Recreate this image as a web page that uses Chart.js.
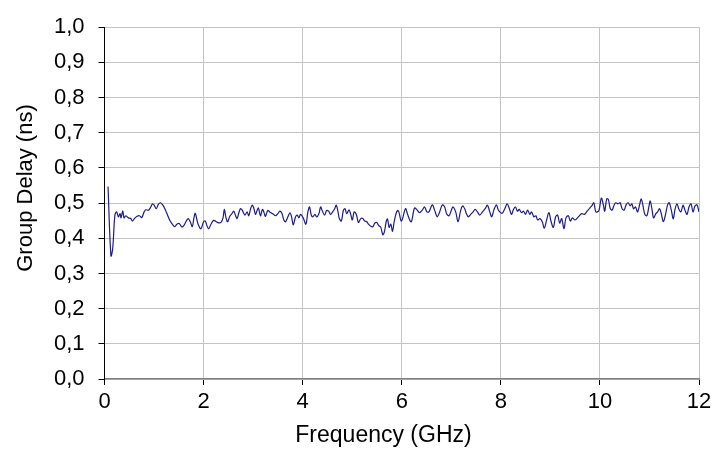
<!DOCTYPE html>
<html>
<head>
<meta charset="utf-8">
<script src="https://cdn.jsdelivr.net/npm/chart.js@4.4.0/dist/chart.umd.min.js"></script>
<style>
html,body{margin:0;padding:0;background:#fff;}
#wrap{width:726px;height:450px;position:relative;}
</style>
</head>
<body>
<div id="wrap"><canvas id="c" width="726" height="450"></canvas></div>
<script>
const freqGHz = [
0.071,0.13,0.165,0.21,0.246,0.28,0.314,0.334,0.368,0.395,0.43,0.483,0.53,0.563,0.604,0.651,0.705,0.752,0.8,0.833,0.887,0.935,0.968,1.002,1.043,1.09,1.13,1.178,1.225,1.272,1.326,1.38,1.42,1.46,1.508,1.562,1.61,1.65,1.69,1.731,1.772,1.805,1.832,1.866,1.9,1.947,
2.0,2.034,2.068,2.102,2.149,2.203,2.257,2.304,2.351,2.392,2.419,2.453,2.486,2.527,2.567,2.608,2.642,2.676,2.709,2.743,2.777,2.81,2.837,2.878,2.912,2.946,2.979,3.013,3.047,3.08,3.107,3.148,3.188,3.216,3.249,3.296,3.35,3.404,3.452,3.499,3.54,3.58,3.62,3.654,3.702,3.742,3.776,3.81,3.857,3.891,3.924,
3.957,4.011,4.065,4.105,4.139,4.173,4.207,4.247,4.281,4.328,4.362,4.396,4.443,4.483,4.524,4.564,4.605,4.646,4.679,4.713,4.74,4.781,4.821,4.855,4.889,4.936,4.97,5.003,5.037,5.064,5.091,5.125,5.172,5.213,5.253,5.294,5.327,5.375,5.415,5.456,5.496,5.537,5.577,5.618,5.651,5.685,5.712,5.746,5.78,5.813,5.847,5.881,5.915,
5.941,5.995,6.076,6.123,6.191,6.258,6.312,6.36,6.414,6.461,6.508,6.549,6.616,6.663,6.717,6.765,6.819,6.866,6.906,6.954,7.001,7.035,7.089,7.136,7.183,7.224,7.271,7.305,7.345,7.392,7.44,7.48,7.527,7.575,7.629,7.683,7.73,7.777,7.818,7.858,7.912,
7.945,7.979,8.026,8.08,8.127,8.168,8.215,8.255,8.296,8.336,8.37,8.418,8.458,8.499,8.539,8.586,8.62,8.667,8.708,8.742,8.789,8.836,8.877,8.924,8.971,9.012,9.059,9.106,9.147,9.187,9.228,9.275,9.315,9.363,9.403,9.444,9.498,9.565,9.633,9.687,9.741,9.795,9.835,9.876,9.916,
9.949,9.983,10.03,10.071,10.097,10.138,10.172,10.205,10.246,10.286,10.32,10.367,10.408,10.448,10.489,10.529,10.57,10.61,10.644,10.678,10.718,10.759,10.799,10.833,10.867,10.907,10.948,10.988,11.015,11.049,11.083,11.13,11.164,11.205,11.245,11.279,11.319,11.366,11.4,11.441,11.481,11.515,11.556,11.596,11.636,11.677,11.717,11.758,11.798,11.839,11.879,11.92,11.96,12.0
];
const groupDelayNs = [
0.547,0.35,0.37,0.466,0.475,0.461,0.47,0.458,0.478,0.458,0.464,0.458,0.456,0.449,0.456,0.462,0.464,0.459,0.475,0.481,0.48,0.489,0.498,0.494,0.484,0.497,0.501,0.494,0.482,0.466,0.449,0.438,0.433,0.44,0.442,0.432,0.438,0.449,0.456,0.447,0.433,0.458,0.471,0.452,0.436,0.427,
0.447,0.449,0.436,0.427,0.44,0.451,0.447,0.444,0.445,0.458,0.482,0.458,0.447,0.462,0.469,0.477,0.466,0.456,0.471,0.484,0.481,0.471,0.466,0.475,0.464,0.482,0.494,0.486,0.468,0.479,0.486,0.464,0.482,0.475,0.462,0.479,0.473,0.469,0.464,0.47,0.477,0.471,0.452,0.447,0.461,0.472,0.461,0.438,0.461,0.466,0.458,
0.468,0.458,0.44,0.475,0.489,0.466,0.461,0.468,0.461,0.47,0.489,0.478,0.466,0.479,0.477,0.468,0.475,0.484,0.494,0.475,0.456,0.449,0.479,0.484,0.47,0.481,0.468,0.452,0.475,0.473,0.464,0.445,0.456,0.456,0.449,0.447,0.44,0.434,0.433,0.443,0.445,0.436,0.431,0.41,0.419,0.447,0.455,0.431,0.44,0.42,0.447,0.468,0.479,
0.475,0.449,0.484,0.466,0.447,0.486,0.48,0.473,0.48,0.489,0.475,0.475,0.495,0.48,0.461,0.475,0.495,0.489,0.47,0.464,0.48,0.489,0.475,0.447,0.475,0.492,0.484,0.47,0.461,0.468,0.475,0.482,0.475,0.466,0.475,0.484,0.494,0.475,0.461,0.48,0.495,
0.482,0.475,0.471,0.484,0.498,0.486,0.468,0.482,0.489,0.477,0.482,0.473,0.477,0.468,0.48,0.468,0.475,0.461,0.464,0.452,0.456,0.447,0.429,0.452,0.473,0.449,0.431,0.461,0.466,0.443,0.456,0.427,0.458,0.464,0.449,0.458,0.452,0.461,0.47,0.468,0.477,0.486,0.492,0.501,0.475,
0.475,0.48,0.514,0.494,0.477,0.512,0.51,0.486,0.48,0.494,0.501,0.498,0.501,0.484,0.48,0.495,0.501,0.492,0.498,0.484,0.489,0.475,0.494,0.512,0.494,0.468,0.464,0.489,0.506,0.484,0.458,0.47,0.475,0.484,0.466,0.447,0.464,0.495,0.501,0.48,0.455,0.482,0.498,0.482,0.475,0.494,0.48,0.468,0.489,0.498,0.475,0.492,0.495,0.475
];
const xTicks = [0,2,4,6,8,10,12];
const yTickStep = 0.1;
const xTitle = 'Frequency (GHz)';
const yTitle = 'Group Delay (ns)';

const points = freqGHz.map((f,i)=>({x:f,y:groupDelayNs[i]}));
const FAMILY = '"Liberation Sans", Arial, sans-serif';
const font = {family:FAMILY, size:22};

const axisTitles = {
  id:'axisTitles',
  afterDraw(chart){
    const ctx = chart.ctx;
    ctx.save();
    ctx.fillStyle = '#000';
    ctx.textAlign = 'center';
    ctx.textBaseline = 'alphabetic';
    ctx.font = '23px ' + FAMILY;
    ctx.fillText(xTitle, 383.5, 442);
    ctx.font = '22px ' + FAMILY;
    ctx.translate(31.5, 188);
    ctx.rotate(-Math.PI/2);
    ctx.fillText(yTitle, 0, 0);
    ctx.restore();
  }
};

new Chart(document.getElementById('c'), {
  type:'line',
  data:{datasets:[{data:points,borderColor:'#1c1c8c',borderWidth:1.2,pointRadius:0,tension:0.35,fill:false}]},
  options:{
    responsive:false,animation:false,
    layout:{padding:{left:0,right:27,top:20,bottom:0}},
    plugins:{legend:{display:false},tooltip:{enabled:false}},
    scales:{
      x:{type:'linear',min:0,max:12,
        afterBuildTicks:s=>{s.ticks=xTicks.map(v=>({value:v}));},
        afterFit:s=>{s.height=71;},
        grid:{color:'#c4c4c4',lineWidth:1,tickLength:6,tickColor:'#000',drawTicks:true},
        border:{color:'#808080',width:1.5},
        ticks:{color:'#000',font:font,padding:4,maxRotation:0,autoSkip:false},
        title:{display:false}
      },
      y:{type:'linear',min:0,max:1,
        afterFit:s=>{s.width=104.5;},
        grid:{color:'#c4c4c4',lineWidth:1,tickLength:6,tickColor:'#000'},
        border:{color:'#000',width:1},
        ticks:{stepSize:yTickStep,color:'#000',font:font,padding:14,callback:v=>v.toFixed(1).replace('.',',')},
        title:{display:false}
      }
    }
  },
  plugins:[axisTitles]
});
</script>
</body>
</html>
